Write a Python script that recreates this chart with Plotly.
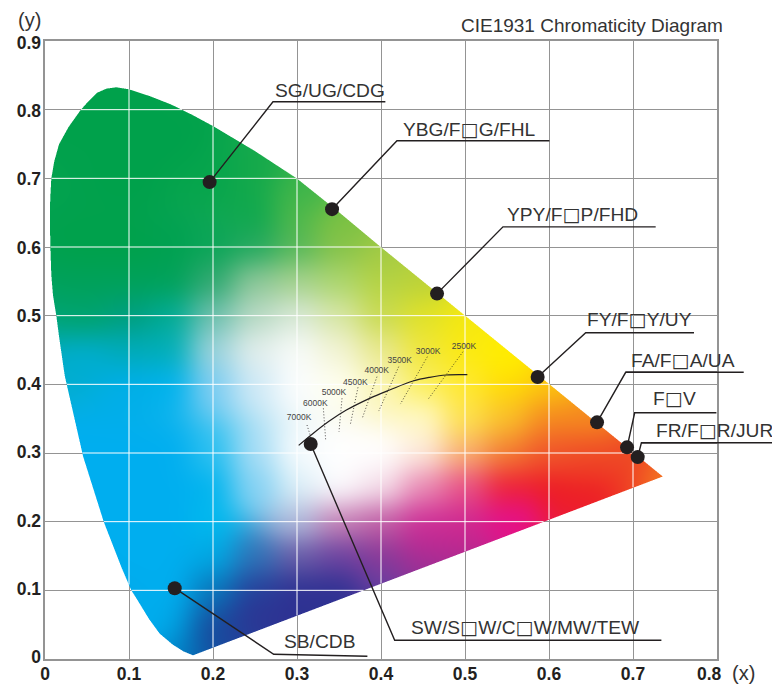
import numpy as np
import plotly.graph_objects as go

# ---- axis ticks
x_ticks = [0, 0.1, 0.2, 0.3, 0.4, 0.5, 0.6, 0.7, 0.8]
x_tick_text = ["0", "0.1", "0.2", "0.3", "0.4", "0.5", "0.6", "0.7", ""]
x_last_label = "0.8"
y_ticks = [0, 0.1, 0.2, 0.3, 0.4, 0.5, 0.6, 0.7, 0.8, 0.9]
y_tick_text = ["0", "0.1", "0.2", "0.3", "0.4", "0.5", "0.6", "0.7", "0.8", "0.9"]

# ---- gamut outline (chromaticity x, y)
locus_x = [0.1762, 0.165, 0.152, 0.1365, 0.124, 0.1096, 0.1028, 0.0913, 0.0699, 0.0454, 0.0235, 0.0167,
           0.0135, 0.0095, 0.0075, 0.0064, 0.0058, 0.0062, 0.0075, 0.0110, 0.0167, 0.0280, 0.0425, 0.052, 0.062,
           0.073, 0.085, 0.1, 0.125, 0.15, 0.175, 0.2, 0.25,
           0.3, 0.35, 0.4, 0.7354]
locus_y = [0.0054, 0.011, 0.021, 0.037, 0.058, 0.0868, 0.1, 0.1327, 0.2, 0.295, 0.4127, 0.47,
           0.5, 0.53, 0.56, 0.6, 0.64, 0.67, 0.7, 0.725, 0.75, 0.775, 0.8, 0.813, 0.825,
           0.831, 0.833, 0.83, 0.82, 0.808, 0.793, 0.7765, 0.74,
           0.7, 0.651, 0.6, 0.2659]

# ---- colour samples read inside the gamut
color_x = [0.05, 0.1, 0.2, 0.08, 0.15, 0.25, 0.3, 0.3, 0.35, 0.25, 0.05, 0.1, 0.15, 0.2, 0.25, 0.3, 0.35, 0.4, 0.45,
           0.05, 0.1, 0.15, 0.2, 0.25, 0.3, 0.35, 0.4,
           0.05, 0.1, 0.15, 0.2, 0.25, 0.3, 0.35, 0.4, 0.45, 0.5,
           0.05, 0.1, 0.15, 0.2, 0.25, 0.3, 0.35, 0.4, 0.45, 0.5, 0.55,
           0.1, 0.15, 0.2, 0.25, 0.3, 0.35, 0.4, 0.45, 0.5, 0.55,
           0.05, 0.1, 0.15, 0.2, 0.25, 0.3, 0.35, 0.4, 0.45, 0.5, 0.55, 0.6,
           0.1, 0.15, 0.2, 0.25, 0.3, 0.35, 0.4, 0.45, 0.5, 0.55, 0.6, 0.65, 0.7,
           0.1, 0.15, 0.2, 0.25, 0.3, 0.35, 0.4, 0.45, 0.5, 0.55, 0.6, 0.65,
           0.12, 0.15, 0.2, 0.25, 0.3, 0.35, 0.4, 0.45, 0.5, 0.55, 0.58, 0.6,
           0.15, 0.2, 0.25, 0.3, 0.35, 0.4, 0.45, 0.5,
           0.13, 0.15, 0.2, 0.25, 0.3, 0.35, 0.4,
           0.165, 0.18, 0.2, 0.22, 0.25,
           0.6, 0.65, 0.7, 0.6, 0.65, 0.6, 0.55, 0.55, 0.5, 0.45, 0.73]
color_y = [0.8, 0.7, 0.7, 0.82, 0.75, 0.7, 0.68, 0.65, 0.63, 0.65, 0.6, 0.6, 0.6, 0.6, 0.6, 0.6, 0.6, 0.58, 0.55,
           0.55, 0.55, 0.55, 0.55, 0.55, 0.55, 0.55, 0.55,
           0.5, 0.5, 0.5, 0.5, 0.5, 0.5, 0.5, 0.5, 0.5, 0.5,
           0.44, 0.45, 0.45, 0.45, 0.45, 0.45, 0.45, 0.45, 0.45, 0.45, 0.43,
           0.4, 0.4, 0.4, 0.4, 0.4, 0.4, 0.4, 0.4, 0.4, 0.4,
           0.3, 0.3, 0.3, 0.3, 0.3, 0.3, 0.3, 0.3, 0.3, 0.3, 0.3, 0.3,
           0.25, 0.25, 0.25, 0.25, 0.25, 0.25, 0.25, 0.25, 0.25, 0.25, 0.25, 0.25, 0.27,
           0.2, 0.2, 0.2, 0.25, 0.2, 0.2, 0.2, 0.2, 0.2, 0.2, 0.22, 0.27,
           0.15, 0.15, 0.15, 0.15, 0.15, 0.15, 0.15, 0.17, 0.18, 0.2, 0.21, 0.21,
           0.1, 0.1, 0.1, 0.1, 0.1, 0.11, 0.13, 0.15,
           0.05, 0.05, 0.05, 0.05, 0.05, 0.05, 0.05,
           0.02, 0.02, 0.03, 0.05, 0.06,
           0.3, 0.3, 0.3, 0.35, 0.35, 0.4, 0.35, 0.45, 0.35, 0.35, 0.265]
color_hex = ["#00A14B", "#00A14B", "#06A54C", "#00A14B", "#00A14B", "#14A94B", "#3DB54A", "#4DB84A", "#7DC242", "#0FA84E",
             "#00A14B", "#00A14B", "#00A150", "#0AA557", "#22A85E", "#55B758", "#86C24A", "#A5CB43", "#BBD238",
             "#00A159", "#00A159", "#00A159", "#30A870", "#8FC79A", "#A6D28E", "#ACD66E", "#B6D443",
             "#00A36E", "#009E7E", "#00AB95", "#6FC0AE", "#B8D9C4", "#D8E8D8", "#D7E6A5", "#C8DA50", "#E0E228", "#F4E80F",
             "#00ADD0", "#00ABB8", "#00AEB8", "#9FD3DC", "#E3EEEC", "#F8FBF9", "#F2F3D4", "#E8E88E", "#F0E63A", "#FBEA12", "#FFED00",
             "#00AEE8", "#00B2EE", "#7ECDF2", "#CFE9F6", "#FBFDFE", "#FFFFF0", "#FBF6B8", "#FBEF5E", "#FFE930", "#FFDA05",
             "#00AEEF", "#00AEEF", "#00AEEF", "#2CC0F0", "#A8DDF5", "#F6FBFD", "#FFFFFF", "#FFFFFF", "#FDEBDD", "#F9B070", "#F37E32", "#F0562B",
             "#00AEEF", "#00AEEF", "#00B4EE", "#86D2F3", "#DDF0F8", "#FCFCFE", "#F5E0EA", "#E88AB4", "#E85088", "#EE2035", "#ED1C24", "#ED1C24", "#EE3F24",
             "#00AEEF", "#00AEEF", "#00B9EE", "#86D2F3", "#B0BCDC", "#C880B5", "#C25FA5", "#D02E97", "#D02A92", "#E8108A", "#ED1C24", "#EE3F24",
             "#00AEEF", "#00AEEF", "#00A9E4", "#2E74B8", "#6A5CA8", "#6C42A0", "#8A3898", "#BB2A93", "#C8268F", "#E0108A", "#E6108A", "#EC1C3A",
             "#00AEEF", "#0878BC", "#25409A", "#2E3192", "#2E3192", "#6B3FA0", "#9A2F95", "#B02A90",
             "#00AEEF", "#00A6E5", "#14519F", "#2A3A96", "#2E3192", "#2E3192", "#2E3192",
             "#0089CC", "#0B5CA8", "#1C459B", "#20429A", "#2E3192",
             "#F0562B", "#EF4C27", "#EE4A25", "#F58A20", "#F58A1F", "#FCC60E", "#F9C02B", "#FFED00", "#FDE24F", "#FFF9C8", "#F47920"]

# ---- dotted isotherms and correlated colour temperature curve
cct_labels = ["7000K", "6000K", "5000K", "4500K", "4000K", "3500K", "3000K", "2500K"]
cct_label_x = [0.3024, 0.3219, 0.3440, 0.3695, 0.3949, 0.4223, 0.4560, 0.4988]
cct_label_y = [0.3513, 0.3713, 0.3878, 0.4023, 0.4198, 0.4344, 0.4471, 0.4544]
iso_x0 = [0.3119, 0.3314, 0.3536, 0.3726, 0.3952, 0.4211, 0.4552, 0.4976]
iso_y0 = [0.3407, 0.3650, 0.3796, 0.3956, 0.4111, 0.4257, 0.4402, 0.4475]
iso_x1 = [0.3163, 0.3342, 0.35, 0.3636, 0.3779, 0.3973, 0.4231, 0.456]
iso_y1 = [0.3236, 0.3178, 0.3309, 0.3421, 0.3513, 0.3611, 0.3713, 0.3781]
curve_x = [0.3020, 0.3191, 0.3389, 0.3588, 0.3865, 0.4103, 0.4381, 0.458, 0.4778, 0.5028]
curve_y = [0.3111, 0.3285, 0.3469, 0.3625, 0.3796, 0.3917, 0.4048, 0.4102, 0.4136, 0.414]

# ---- labelled points
point_names = ["SG/UG/CDG", "YBG/F□G/FHL", "YPY/F□P/FHD", "FY/F□Y/UY", "FA/F□A/UA", "F□V", "FR/F□R/JUR",
               "SB/CDB", "SW/S□W/C□W/MW/TEW"]
point_x = [0.196, 0.3417, 0.4667, 0.5865, 0.6572, 0.6929, 0.7056, 0.1544, 0.3163]
point_y = [0.6945, 0.6551, 0.5321, 0.4106, 0.3446, 0.3082, 0.294, 0.1031, 0.313]
elbow_x = [0.2714, 0.419, 0.5452, 0.6437, 0.6913, 0.702, 0.71, 0.2723, 0.4163]
elbow_y = [0.8115, 0.7547, 0.6293, 0.4752, 0.4175, 0.3586, 0.3149, 0.0069, 0.0272]
end_x = [0.4052, 0.6005, 0.727, 0.7726, 0.8318, 0.7993, 0.8746, 0.3838, 0.7338]
end_y = [0.8115, 0.7547, 0.6293, 0.4752, 0.4175, 0.3586, 0.3149, 0.0039, 0.0272]
label_x = [0.2723, 0.4255, 0.5493, 0.6437, 0.6961, 0.7226, 0.7267, 0.2833, 0.435]
label_y = [0.8285, 0.7717, 0.6478, 0.4937, 0.4354, 0.3796, 0.3324, 0.0262, 0.0466]

INK = "#231F20"
GRID = "#949494"
FONT = "Liberation Sans"
X_RANGE = [0, 0.8]
Y_RANGE = [0, 0.9]
Y_LABEL_RANGE = [-0.00293, 0.9026]   # the printed y labels drift slightly against the grid
W, H = 780, 686          # the page body adds an 8 px margin on the left and top
L, R, T, B = 37.3, 70.7, 33, 35.3
PX_X = (X_RANGE[1] - X_RANGE[0]) / (W - L - R)
PX_Y = (Y_RANGE[1] - Y_RANGE[0]) / (H - T - B)


def inside(px, py, vx, vy):
    vx, vy = np.asarray(vx), np.asarray(vy)
    result = np.zeros(px.shape, dtype=bool)
    for i in range(len(vx)):
        j = i - 1
        cond = (vy[i] > py) != (vy[j] > py)
        xc = (vx[j] - vx[i]) * (py - vy[i]) / (vy[j] - vy[i]) + vx[i]
        result ^= cond & (px < xc)
    return result


def hex_rgb(h):
    return [int(h[i:i + 2], 16) for i in (1, 3, 5)]


def blur(a, sigma):
    r = int(3 * sigma)
    k = np.exp(-0.5 * (np.arange(-r, r + 1) / sigma) ** 2)
    k /= k.sum()
    for axis in (0, 1):
        pad = [(r, r) if ax == axis else (0, 0) for ax in range(3)]
        p = np.pad(a, pad, mode="edge")
        a = np.apply_along_axis(lambda v: np.convolve(v, k, mode="valid"), axis, p)
    return a


# colour field on a one-screen-pixel grid
nx = int(round(0.75 / PX_X))
ny = int(round(0.85 / PX_Y))
gx = (np.arange(nx) + 0.5) * PX_X
gy = (np.arange(ny) + 0.5) * PX_Y
mx, my = np.meshgrid(gx, gy)
cx = np.array(color_x)[:, None, None]
cy = np.array(color_y)[:, None, None]
rgb = np.array([hex_rgb(h) for h in color_hex], dtype=float)
d2 = (mx[None] - cx) ** 2 + (my[None] - cy) ** 2 + 1e-5
weights = d2 ** -2.5
weights /= weights.sum(axis=0, keepdims=True)
field = np.einsum("kij,kc->ijc", weights, rgb)
field = blur(field, 13)

# antialiased outline mask
alpha = np.zeros(mx.shape)
for ox in (-1 / 3, 0, 1 / 3):
    for oy in (-1 / 3, 0, 1 / 3):
        alpha += inside(mx + ox * PX_X, my + oy * PX_Y, locus_x, locus_y)
alpha = alpha / 9
rgba = np.dstack([field, alpha * 255]).round().astype(np.uint8)

fig = go.Figure()
fig.add_trace(go.Image(z=rgba, colormodel="rgba256", x0=PX_X / 2, dx=PX_X,
                       y0=PX_Y / 2, dy=PX_Y, hoverinfo="skip"))

# white grid lines inside the gamut
wx, wy = [], []
for v in x_ticks[1:-1]:
    yy = np.arange(0, 0.9, PX_Y / 2)
    m = inside(np.full(yy.shape, v), yy, locus_x, locus_y)
    wx += list(np.full(yy.shape, float(v))) + [None]
    wy += list(np.where(m, yy, np.nan)) + [None]
for v in y_ticks[1:-1]:
    xx = np.arange(0, 0.8, PX_X / 2)
    m = inside(xx, np.full(xx.shape, v), locus_x, locus_y)
    wx += list(np.where(m, xx, np.nan)) + [None]
    wy += list(np.full(xx.shape, float(v))) + [None]
fig.add_trace(go.Scatter(x=wx, y=wy, mode="lines", line=dict(color="#FFFFFF", width=1), hoverinfo="skip"))

# isotherms
for x0, y0, x1, y1 in zip(iso_x0, iso_y0, iso_x1, iso_y1):
    fig.add_trace(go.Scatter(x=[x0, x1], y=[y0, y1], mode="lines",
                             line=dict(color=INK, width=0.8, dash="1px 2px"), hoverinfo="skip"))
fig.add_trace(go.Scatter(x=curve_x, y=curve_y, mode="lines",
                         line=dict(color=INK, width=1.2, shape="spline"), hoverinfo="skip"))
fig.add_trace(go.Scatter(x=cct_label_x, y=cct_label_y, mode="text", text=cct_labels, cliponaxis=False,
                         textfont=dict(family=FONT, size=8.5, color="#444444"), textposition="middle center",
                         hoverinfo="skip"))

# leaders, markers; leaders running past the frame are drawn as paper shapes, which the plot does not clip
for i in range(len(point_names)):
    fig.add_trace(go.Scatter(x=[point_x[i], elbow_x[i], min(end_x[i], X_RANGE[1])],
                             y=[point_y[i], elbow_y[i], end_y[i]],
                             mode="lines", line=dict(color=INK, width=1.4), hoverinfo="skip"))
    if end_x[i] > X_RANGE[1]:
        fig.add_shape(type="line", xref="paper", yref="paper", layer="above",
                      x0=elbow_x[i] / X_RANGE[1], x1=end_x[i] / X_RANGE[1],
                      y0=elbow_y[i] / Y_RANGE[1], y1=end_y[i] / Y_RANGE[1],
                      line=dict(color=INK, width=1.4))
fig.add_trace(go.Scatter(x=point_x, y=point_y, mode="markers", marker=dict(color=INK, size=14),
                         hoverinfo="skip"))

# carries the y tick labels
fig.add_trace(go.Scatter(x=[None], y=[None], yaxis="y2", mode="lines", hoverinfo="skip"))

for name, lx, ly in zip(point_names, label_x, label_y):
    shown = name.replace("□", '<span style="font-family:\'DejaVu Sans\'">□</span>')
    fig.add_annotation(x=lx, y=ly, text=shown, showarrow=False, xanchor="left", yanchor="middle", borderpad=0,
                       font=dict(family=FONT, size=19.2, color="#333333"))

fig.add_annotation(x=1, xref="paper", y=1, yref="paper", yanchor="bottom", xanchor="right", xshift=7, yshift=4,
                   text="CIE1931 Chromaticity Diagram", showarrow=False, borderpad=0,
                   font=dict(family=FONT, size=19, color="#333333"))
fig.add_annotation(x=0, xref="paper", y=1, yref="paper", text="(y)", showarrow=False, xanchor="center",
                   yanchor="middle", xshift=-16, yshift=21, borderpad=0,
                   font=dict(family=FONT, size=20, color="#333333"))
fig.add_annotation(x=1, xref="paper", y=0, yref="paper", text="(x)", showarrow=False, xanchor="center",
                   yanchor="middle", xshift=26, yshift=-14, borderpad=0,
                   font=dict(family=FONT, size=20, color="#333333"))

tick_font = dict(family=FONT, size=17.5, color=INK, weight="bold")
# the last x label sits left of its grid line in the reference
fig.add_annotation(x=X_RANGE[1], y=0, text=x_last_label, showarrow=False, xanchor="center", yanchor="middle",
                   xshift=-7.5, yshift=-14.5, borderpad=0, font=tick_font)
fig.update_layout(
    width=W, height=H, autosize=False, showlegend=False,
    margin=dict(l=L, r=R, t=T, b=B, pad=0),
    paper_bgcolor="rgba(0,0,0,0)", plot_bgcolor="#FFFFFF",
    xaxis=dict(range=X_RANGE, tickvals=x_ticks, ticktext=x_tick_text, showgrid=True, gridcolor=GRID, gridwidth=1,
               showline=True, linecolor=GRID, linewidth=1.5, mirror=True, zeroline=False, ticks="",
               tickfont=tick_font, ticklabelstandoff=-2, scaleanchor=False, automargin=False),
    yaxis=dict(range=Y_RANGE, tickvals=y_ticks, showticklabels=False, showgrid=True, gridcolor=GRID, gridwidth=1,
               showline=True, linecolor=GRID, linewidth=1.5, mirror=True, zeroline=False, ticks="",
               scaleanchor=False, automargin=False),
    yaxis2=dict(range=Y_LABEL_RANGE, overlaying="y", side="left", tickvals=y_ticks, ticktext=y_tick_text,
                showgrid=False, showline=False, zeroline=False, ticks="", tickfont=tick_font,
                ticklabelstandoff=3, scaleanchor=False, automargin=False),
)
fig.write_html("out.html", config={"displayModeBar": False})
